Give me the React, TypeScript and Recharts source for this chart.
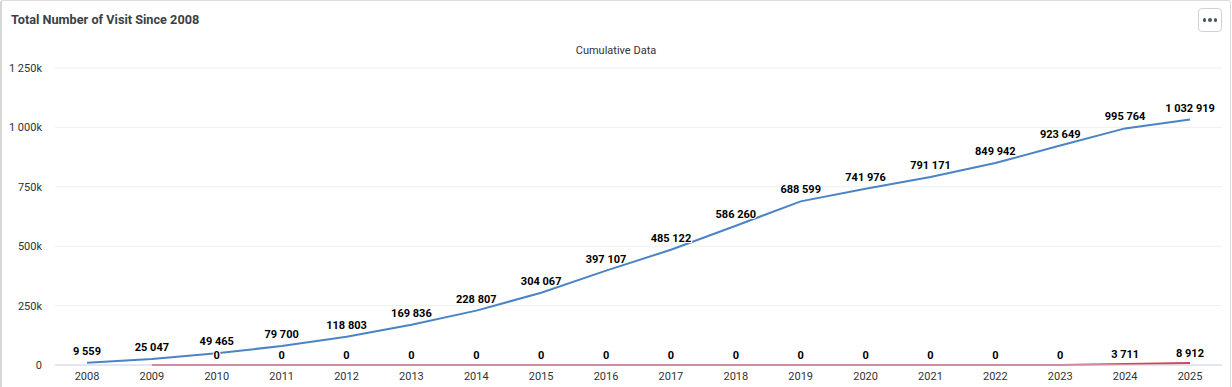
import { LineChart, Line, XAxis, YAxis, CartesianGrid } from 'recharts'

const years = [
  '2008', '2009', '2010', '2011', '2012', '2013', '2014', '2015', '2016',
  '2017', '2018', '2019', '2020', '2021', '2022', '2023', '2024', '2025',
]

const cumulativeVisits = [
  9559, 25047, 49465, 79700, 118803, 169836, 228807, 304067, 397107,
  485122, 586260, 688599, 741976, 791171, 849942, 923649, 995764, 1032919,
]

const secondSeries: (number | null)[] = [
  null, 0, 0, 0, 0, 0, 0, 0, 0, 0, 0, 0, 0, 0, 0, 0, 3711, 8912,
]

// labels that the reference hides because they collide
const hiddenSecondLabels = [1]

const yTicks = [0, 250000, 500000, 750000, 1000000, 1250000]

const data = years.map((year, i) => ({
  year,
  visits: cumulativeVisits[i],
  second: secondSeries[i],
}))

const withSpaces = (v: number) =>
  String(v).replace(/\B(?=(\d{3})+(?!\d))/g, ' ')

const formatTick = (v: number) => (v === 0 ? '0' : `${withSpaces(v / 1000)}k`)

const makeLabel =
  (offset: number, hidden: number[] = []) =>
  (props: any) => {
    const { x, y, value, index } = props
    if (value === null || value === undefined || hidden.includes(index)) return null
    return (
      <text
        x={x}
        y={y - offset}
        textAnchor="middle"
        fontSize={11}
        fontWeight="bold"
        fill="#000"
        stroke="#fff"
        strokeWidth={2}
        paintOrder="stroke"
        style={{ fontFamily: 'Roboto, sans-serif' }}
      >
        {withSpaces(value)}
      </text>
    )
  }

const App = () => {
  return (
    <div
      style={{
        position: 'absolute',
        left: 0,
        top: 0,
        width: 1232,
        height: 387,
        background: '#fff',
        fontFamily: 'Roboto, sans-serif',
        overflow: 'hidden',
      }}
    >
      <div
        style={{
          position: 'absolute',
          left: 0,
          top: 0,
          width: 1228,
          height: 400,
          border: '1px solid #dcdcdc',
          borderLeft: '2px solid #d6d6d6',
          borderRadius: 3,
        }}
      />
      <div
        style={{
          position: 'absolute',
          left: 11,
          top: 12,
          fontSize: 12.7,
          fontWeight: 'bold',
          color: '#3b3f47',
        }}
      >
        Total Number of Visit Since 2008
      </div>
      <div
        style={{
          position: 'absolute',
          left: 1198,
          top: 8,
          width: 24,
          height: 24,
          border: '1px solid #cfd3d8',
          borderRadius: 4,
          boxSizing: 'border-box',
          display: 'flex',
          alignItems: 'center',
          justifyContent: 'center',
          gap: 2,
        }}
      >
        {[0, 1, 2].map((d) => (
          <span
            key={d}
            style={{ width: 3.5, height: 3.5, borderRadius: 2, background: '#4a5566' }}
          />
        ))}
      </div>
      <div
        style={{
          position: 'absolute',
          left: 0,
          width: 1232,
          top: 44,
          textAlign: 'center',
          fontSize: 11,
          color: '#333',
        }}
      >
        Cumulative Data
      </div>
      <div style={{ position: 'absolute', left: 0, top: 0 }}>
        <LineChart
          width={1232}
          height={387}
          data={data}
          margin={{ top: 68, right: 10, bottom: 0, left: 0 }}
        >
          <CartesianGrid vertical={false} stroke="#f0f0f0" />
          <XAxis
            dataKey="year"
            padding={{ left: 32, right: 32 }}
            height={22}
            tickLine={false}
            tickMargin={1}
            axisLine={{ stroke: '#ccd6eb' }}
            tick={{ fontSize: 11, fill: '#333' }}
            interval={0}
          />
          <YAxis
            width={55}
            domain={[0, 1250000]}
            ticks={yTicks}
            tickFormatter={formatTick}
            tickLine={false}
            axisLine={false}
            tickMargin={7}
            tick={{ fontSize: 11, fill: '#333' }}
          />
          <Line
            type="linear"
            dataKey="second"
            stroke="#d9405a"
            strokeWidth={2}
            dot={false}
            isAnimationActive={false}
            label={makeLabel(6, hiddenSecondLabels)}
          />
          <Line
            type="linear"
            dataKey="visits"
            stroke="#4b84c4"
            strokeWidth={2}
            dot={false}
            isAnimationActive={false}
            label={makeLabel(8)}
          />
        </LineChart>
      </div>
    </div>
  )
}

export default App
